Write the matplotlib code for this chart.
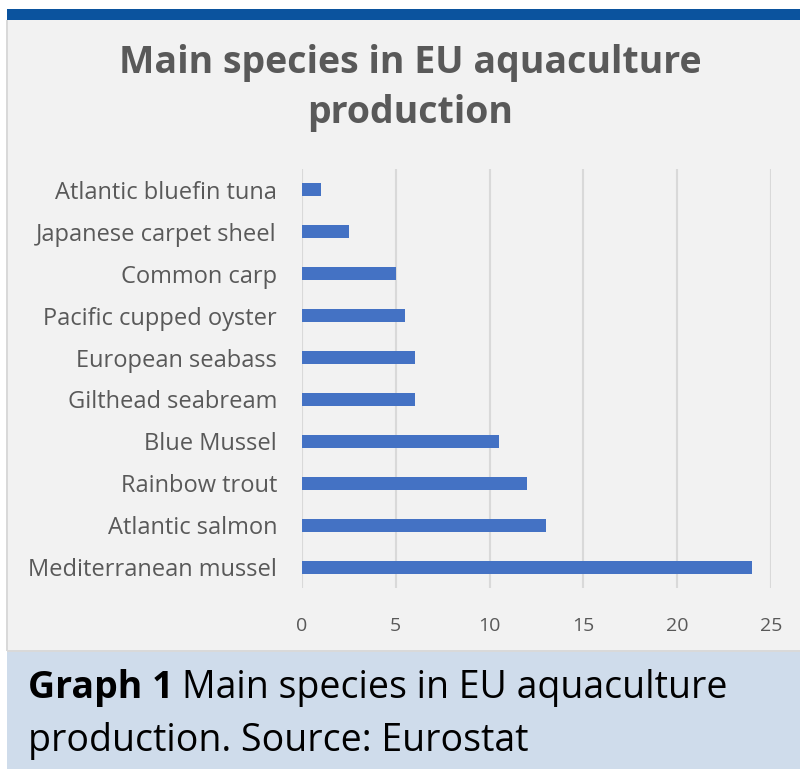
import matplotlib
matplotlib.use("Agg")
import matplotlib.pyplot as plt
from matplotlib.patches import Rectangle

species = ["Mediterranean mussel", "Atlantic salmon", "Rainbow trout", "Blue Mussel",
           "Gilthead seabream", "European seabass", "Pacific cupped oyster",
           "Common carp", "Japanese carpet sheel", "Atlantic bluefin tuna"]
values = [24, 13, 12, 10.5, 6, 6, 5.5, 5, 2.5, 1]
xticks = [0, 5, 10, 15, 20, 25]

W, H = 800, 769
fig = plt.figure(figsize=(W / 100, H / 100), dpi=100)
fig.patch.set_facecolor("white")

# panel background
bg = fig.add_axes([0, 0, 1, 1], zorder=-10)
bg.set_xlim(0, W); bg.set_ylim(H, 0); bg.axis("off")
bg.add_patch(Rectangle((7, 20), W - 7, 631, facecolor="#F2F2F2", edgecolor="none"))
bg.add_patch(Rectangle((5.5, 20), 2, 631, facecolor="#D9D9D9", edgecolor="none"))
bg.add_patch(Rectangle((7, 9), W - 7, 11, facecolor="#0B539E", edgecolor="none"))
bg.add_patch(Rectangle((7, 651), W - 7, H - 651, facecolor="#CFDCEB", edgecolor="none"))
bg.add_patch(Rectangle((7, 650), W - 7, 1.5, facecolor="#D9D9D9", edgecolor="none"))

FONT = "Open Sans"
gray = "#595959"

fig.text(410 / W, 1 - 63 / H, "Main species in EU aquaculture", ha="center", va="center",
         fontsize=27, fontweight="bold", color=gray, family=FONT)
fig.text(410 / W, 1 - 113 / H, "production", ha="center", va="center",
         fontsize=27, fontweight="bold", color=gray, family=FONT)

ax = fig.add_axes([302 / W, 1 - 588 / H, (771 - 302) / W, (588 - 169) / H])
ax.set_facecolor("none")
ypos = list(range(len(species)))
ax.barh(ypos, values, height=0.31, color="#4472C4", zorder=3)
ax.set_xlim(0, 25)
ax.set_ylim(-0.5, len(species) - 0.5)
ax.set_xticks(xticks)
ax.set_xticklabels([str(t) for t in xticks], family=FONT, fontsize=14, color=gray)
ax.set_yticks(ypos)
ax.set_yticklabels(species, family=FONT, fontsize=17, color=gray)
ax.tick_params(axis="y", length=0, pad=18)
ax.tick_params(axis="x", length=0, pad=21)
ax.grid(axis="x", color="#D9D9D9", linewidth=1.5, zorder=0)
for s in ax.spines.values():
    s.set_visible(False)

t1 = fig.text(28 / W, 1 - 688 / H, "Graph 1", ha="left", va="center",
              fontsize=27, fontweight="bold", color="black", family=FONT)
fig.canvas.draw()
bb = t1.get_window_extent()
fig.text((bb.x1 + 8) / W, 1 - 688 / H, "Main species in EU aquaculture", ha="left", va="center",
         fontsize=27, color="black", family=FONT)
fig.text(28 / W, 1 - 741 / H, "production. Source: Eurostat", ha="left", va="center",
         fontsize=27, color="black", family=FONT)

fig.savefig("out.png", dpi=100, facecolor=fig.get_facecolor())
